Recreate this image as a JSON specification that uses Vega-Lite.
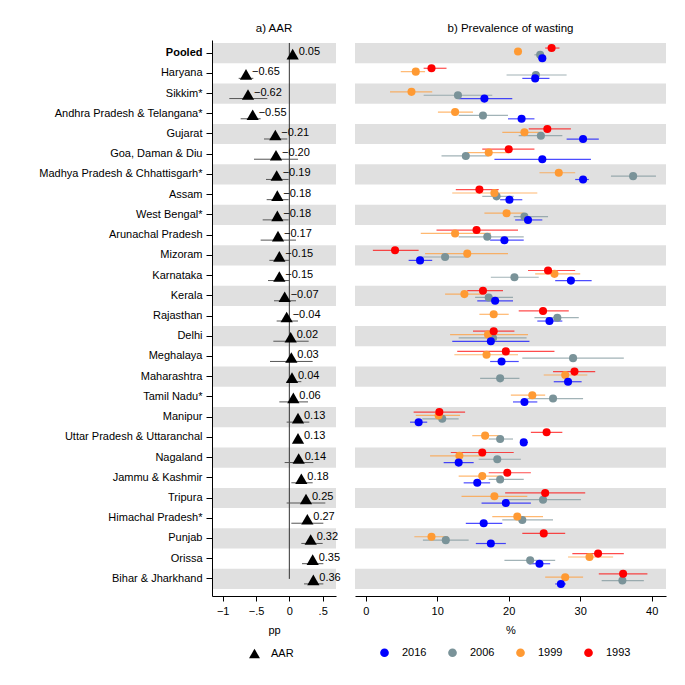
{
  "$schema": "https://vega.github.io/schema/vega-lite/v6.json",
  "background": "white",
  "padding": {"left": 38, "top": 22, "right": 5, "bottom": 5},
  "config": {
    "font": "Liberation Sans",
    "view": {"stroke": null},
    "axis": {"labelFont": "Liberation Sans", "labelFontSize": 11, "labelColor": "black", "titleFont": "Liberation Sans", "titleFontSize": 11, "titleFontWeight": "normal", "titleColor": "black", "domainColor": "black", "tickColor": "black", "grid": false},
    "title": {"font": "Liberation Sans", "fontSize": 11.5, "fontWeight": "normal", "color": "black", "offset": 6, "anchor": "middle"},
    "legend": {"labelFont": "Liberation Sans", "labelFontSize": 11, "labelColor": "black"},
    "concat": {"spacing": 14}
  },
  "datasets": {
    "aar": [
      {"state": "Pooled", "aar": 0.05, "lo": 0.03, "hi": 0.07},
      {"state": "Haryana", "aar": -0.65, "lo": -0.76, "hi": -0.54},
      {"state": "Sikkim*", "aar": -0.62, "lo": -0.90, "hi": -0.33},
      {"state": "Andhra Pradesh & Telangana*", "aar": -0.55, "lo": -0.73, "hi": -0.43},
      {"state": "Gujarat", "aar": -0.21, "lo": -0.38, "hi": -0.03},
      {"state": "Goa, Daman & Diu", "aar": -0.20, "lo": -0.53, "hi": 0.13},
      {"state": "Madhya Pradesh & Chhattisgarh*", "aar": -0.19, "lo": -0.35, "hi": -0.01},
      {"state": "Assam", "aar": -0.18, "lo": -0.34, "hi": -0.01},
      {"state": "West Bengal*", "aar": -0.18, "lo": -0.40, "hi": -0.01},
      {"state": "Arunachal Pradesh", "aar": -0.17, "lo": -0.43, "hi": 0.10},
      {"state": "Mizoram", "aar": -0.15, "lo": -0.30, "hi": 0.00},
      {"state": "Karnataka", "aar": -0.15, "lo": -0.32, "hi": 0.00},
      {"state": "Kerala", "aar": -0.07, "lo": -0.23, "hi": 0.10},
      {"state": "Rajasthan", "aar": -0.04, "lo": -0.19, "hi": 0.13},
      {"state": "Delhi", "aar": 0.02, "lo": -0.24, "hi": 0.29},
      {"state": "Meghalaya", "aar": 0.03, "lo": -0.29, "hi": 0.35},
      {"state": "Maharashtra", "aar": 0.04, "lo": -0.04, "hi": 0.18},
      {"state": "Tamil Nadu*", "aar": 0.06, "lo": -0.15, "hi": 0.28},
      {"state": "Manipur", "aar": 0.13, "lo": -0.04, "hi": 0.30},
      {"state": "Uttar Pradesh & Uttaranchal", "aar": 0.13, "lo": 0.08, "hi": 0.18},
      {"state": "Nagaland", "aar": 0.14, "lo": -0.07, "hi": 0.36},
      {"state": "Jammu & Kashmir", "aar": 0.18, "lo": 0.03, "hi": 0.35},
      {"state": "Tripura", "aar": 0.25, "lo": -0.04, "hi": 0.54},
      {"state": "Himachal Pradesh*", "aar": 0.27, "lo": 0.03, "hi": 0.51},
      {"state": "Punjab", "aar": 0.32, "lo": 0.18, "hi": 0.50},
      {"state": "Orissa", "aar": 0.35, "lo": 0.19, "hi": 0.51},
      {"state": "Bihar & Jharkhand", "aar": 0.36, "lo": 0.22, "hi": 0.51}
    ],
    "prev": [
      {"state": "Pooled", "year": "2006", "est": 24.4, "lo": 23.6, "hi": 24.9},
      {"state": "Haryana", "year": "2006", "est": 23.8, "lo": 19.7, "hi": 28.1},
      {"state": "Sikkim*", "year": "2006", "est": 12.9, "lo": 8.1, "hi": 17.7},
      {"state": "Andhra Pradesh & Telangana*", "year": "2006", "est": 16.4, "lo": 13.0, "hi": 19.9},
      {"state": "Gujarat", "year": "2006", "est": 24.5, "lo": 21.4, "hi": 27.5},
      {"state": "Goa, Daman & Diu", "year": "2006", "est": 14.0, "lo": 10.6, "hi": 17.2},
      {"state": "Madhya Pradesh & Chhattisgarh*", "year": "2006", "est": 37.4, "lo": 34.3, "hi": 40.6},
      {"state": "Assam", "year": "2006", "est": 18.3, "lo": 16.3, "hi": 20.7},
      {"state": "West Bengal*", "year": "2006", "est": 22.2, "lo": 20.7, "hi": 25.5},
      {"state": "Arunachal Pradesh", "year": "2006", "est": 17.0, "lo": 13.0, "hi": 22.1},
      {"state": "Mizoram", "year": "2006", "est": 11.1, "lo": 7.4, "hi": 14.4},
      {"state": "Karnataka", "year": "2006", "est": 20.8, "lo": 17.5, "hi": 24.2},
      {"state": "Kerala", "year": "2006", "est": 17.2, "lo": 15.3, "hi": 20.6},
      {"state": "Rajasthan", "year": "2006", "est": 26.8, "lo": 23.6, "hi": 29.8},
      {"state": "Delhi", "year": "2006", "est": 17.8, "lo": 13.0, "hi": 22.5},
      {"state": "Meghalaya", "year": "2006", "est": 29.0, "lo": 21.9, "hi": 36.1},
      {"state": "Maharashtra", "year": "2006", "est": 18.8, "lo": 16.0, "hi": 21.5},
      {"state": "Tamil Nadu*", "year": "2006", "est": 26.2, "lo": 22.6, "hi": 30.4},
      {"state": "Manipur", "year": "2006", "est": 10.7, "lo": 7.9, "hi": 13.0},
      {"state": "Uttar Pradesh & Uttaranchal", "year": "2006", "est": 18.8, "lo": 17.2, "hi": 20.6},
      {"state": "Nagaland", "year": "2006", "est": 18.4, "lo": 15.8, "hi": 21.7},
      {"state": "Jammu & Kashmir", "year": "2006", "est": 18.8, "lo": 17.2, "hi": 22.1},
      {"state": "Tripura", "year": "2006", "est": 24.8, "lo": 19.5, "hi": 30.1},
      {"state": "Himachal Pradesh*", "year": "2006", "est": 21.9, "lo": 19.1, "hi": 26.2},
      {"state": "Punjab", "year": "2006", "est": 11.2, "lo": 8.0, "hi": 14.4},
      {"state": "Orissa", "year": "2006", "est": 23.0, "lo": 19.4, "hi": 26.5},
      {"state": "Bihar & Jharkhand", "year": "2006", "est": 35.9, "lo": 33.0, "hi": 38.9},

      {"state": "Pooled", "year": "1999", "est": 21.3, "lo": 20.9, "hi": 21.7},
      {"state": "Haryana", "year": "1999", "est": 7.0, "lo": 4.9, "hi": 8.3},
      {"state": "Sikkim*", "year": "1999", "est": 6.4, "lo": 3.4, "hi": 9.3},
      {"state": "Andhra Pradesh & Telangana*", "year": "1999", "est": 12.5, "lo": 10.1, "hi": 15.0},
      {"state": "Gujarat", "year": "1999", "est": 22.2, "lo": 19.1, "hi": 24.7},
      {"state": "Goa, Daman & Diu", "year": "1999", "est": 17.2, "lo": 14.2, "hi": 20.0},
      {"state": "Madhya Pradesh & Chhattisgarh*", "year": "1999", "est": 27.0, "lo": 24.3, "hi": 29.3},
      {"state": "Assam", "year": "1999", "est": 18.0, "lo": 12.1, "hi": 24.0},
      {"state": "West Bengal*", "year": "1999", "est": 19.7, "lo": 16.6, "hi": 22.1},
      {"state": "Arunachal Pradesh", "year": "1999", "est": 12.5, "lo": 7.7, "hi": 17.5},
      {"state": "Mizoram", "year": "1999", "est": 14.2, "lo": 8.3, "hi": 19.9},
      {"state": "Karnataka", "year": "1999", "est": 26.4, "lo": 23.7, "hi": 30.0},
      {"state": "Kerala", "year": "1999", "est": 13.8, "lo": 11.1, "hi": 16.3},
      {"state": "Rajasthan", "year": "1999", "est": 17.9, "lo": 15.9, "hi": 20.0},
      {"state": "Delhi", "year": "1999", "est": 17.1, "lo": 11.8, "hi": 22.7},
      {"state": "Meghalaya", "year": "1999", "est": 16.9, "lo": 12.4, "hi": 21.3},
      {"state": "Maharashtra", "year": "1999", "est": 27.9, "lo": 24.9, "hi": 31.0},
      {"state": "Tamil Nadu*", "year": "1999", "est": 23.3, "lo": 20.3, "hi": 25.1},
      {"state": "Manipur", "year": "1999", "est": 10.2, "lo": 7.0, "hi": 13.2},
      {"state": "Uttar Pradesh & Uttaranchal", "year": "1999", "est": 16.7, "lo": 14.9, "hi": 18.6},
      {"state": "Nagaland", "year": "1999", "est": 13.1, "lo": 9.0, "hi": 16.7},
      {"state": "Jammu & Kashmir", "year": "1999", "est": 16.3, "lo": 13.0, "hi": 19.1},
      {"state": "Tripura", "year": "1999", "est": 18.0, "lo": 13.4, "hi": 22.6},
      {"state": "Himachal Pradesh*", "year": "1999", "est": 21.2, "lo": 17.7, "hi": 24.8},
      {"state": "Punjab", "year": "1999", "est": 9.2, "lo": 6.8, "hi": 11.5},
      {"state": "Orissa", "year": "1999", "est": 31.3, "lo": 28.3, "hi": 34.6},
      {"state": "Bihar & Jharkhand", "year": "1999", "est": 27.9, "lo": 25.1, "hi": 30.4},

      {"state": "Pooled", "year": "1993", "est": 26.0, "lo": 25.1, "hi": 27.1},
      {"state": "Haryana", "year": "1993", "est": 9.2, "lo": 8.1, "hi": 11.3},
      {"state": "Gujarat", "year": "1993", "est": 25.4, "lo": 22.8, "hi": 28.7},
      {"state": "Goa, Daman & Diu", "year": "1993", "est": 20.0, "lo": 16.3, "hi": 23.6},
      {"state": "Assam", "year": "1993", "est": 15.9, "lo": 12.6, "hi": 18.6},
      {"state": "Arunachal Pradesh", "year": "1993", "est": 15.5, "lo": 9.9, "hi": 21.3},
      {"state": "Mizoram", "year": "1993", "est": 4.1, "lo": 1.0, "hi": 7.4},
      {"state": "Karnataka", "year": "1993", "est": 25.5, "lo": 22.7, "hi": 29.3},
      {"state": "Kerala", "year": "1993", "est": 16.4, "lo": 14.2, "hi": 19.2},
      {"state": "Rajasthan", "year": "1993", "est": 24.8, "lo": 21.4, "hi": 28.4},
      {"state": "Delhi", "year": "1993", "est": 17.9, "lo": 15.0, "hi": 20.8},
      {"state": "Meghalaya", "year": "1993", "est": 19.6, "lo": 12.8, "hi": 26.4},
      {"state": "Maharashtra", "year": "1993", "est": 29.2, "lo": 26.2, "hi": 32.1},
      {"state": "Manipur", "year": "1993", "est": 10.3, "lo": 6.7, "hi": 13.9},
      {"state": "Uttar Pradesh & Uttaranchal", "year": "1993", "est": 25.3, "lo": 23.1, "hi": 27.5},
      {"state": "Nagaland", "year": "1993", "est": 16.3, "lo": 11.9, "hi": 20.7},
      {"state": "Jammu & Kashmir", "year": "1993", "est": 19.8, "lo": 17.2, "hi": 23.1},
      {"state": "Tripura", "year": "1993", "est": 25.1, "lo": 19.5, "hi": 30.7},
      {"state": "Punjab", "year": "1993", "est": 24.9, "lo": 21.9, "hi": 27.9},
      {"state": "Orissa", "year": "1993", "est": 32.5, "lo": 28.9, "hi": 36.1},
      {"state": "Bihar & Jharkhand", "year": "1993", "est": 36.0, "lo": 32.6, "hi": 39.4},

      {"state": "Pooled", "year": "2016", "est": 24.7, "lo": 24.2, "hi": 25.2},
      {"state": "Haryana", "year": "2016", "est": 23.7, "lo": 21.9, "hi": 25.7},
      {"state": "Sikkim*", "year": "2016", "est": 16.6, "lo": 13.0, "hi": 20.5},
      {"state": "Andhra Pradesh & Telangana*", "year": "2016", "est": 21.8, "lo": 19.9, "hi": 23.6},
      {"state": "Gujarat", "year": "2016", "est": 30.4, "lo": 28.1, "hi": 32.6},
      {"state": "Goa, Daman & Diu", "year": "2016", "est": 24.7, "lo": 18.0, "hi": 31.5},
      {"state": "Madhya Pradesh & Chhattisgarh*", "year": "2016", "est": 30.4, "lo": 29.3, "hi": 31.2},
      {"state": "Assam", "year": "2016", "est": 20.1, "lo": 18.8, "hi": 21.9},
      {"state": "West Bengal*", "year": "2016", "est": 22.7, "lo": 20.9, "hi": 24.7},
      {"state": "Arunachal Pradesh", "year": "2016", "est": 19.4, "lo": 17.4, "hi": 22.1},
      {"state": "Mizoram", "year": "2016", "est": 7.6, "lo": 6.0, "hi": 9.3},
      {"state": "Karnataka", "year": "2016", "est": 28.7, "lo": 26.5, "hi": 31.6},
      {"state": "Kerala", "year": "2016", "est": 18.1, "lo": 15.6, "hi": 20.6},
      {"state": "Rajasthan", "year": "2016", "est": 25.7, "lo": 24.0, "hi": 27.5},
      {"state": "Delhi", "year": "2016", "est": 17.5, "lo": 12.1, "hi": 22.9},
      {"state": "Meghalaya", "year": "2016", "est": 19.0, "lo": 17.4, "hi": 21.4},
      {"state": "Maharashtra", "year": "2016", "est": 28.3, "lo": 26.3, "hi": 30.2},
      {"state": "Tamil Nadu*", "year": "2016", "est": 22.2, "lo": 20.6, "hi": 24.0},
      {"state": "Manipur", "year": "2016", "est": 7.4, "lo": 6.2, "hi": 8.6},
      {"state": "Uttar Pradesh & Uttaranchal", "year": "2016", "est": 22.1, "lo": 21.6, "hi": 22.7},
      {"state": "Nagaland", "year": "2016", "est": 13.0, "lo": 10.9, "hi": 15.1},
      {"state": "Jammu & Kashmir", "year": "2016", "est": 15.6, "lo": 13.7, "hi": 17.4},
      {"state": "Tripura", "year": "2016", "est": 19.6, "lo": 16.2, "hi": 23.1},
      {"state": "Himachal Pradesh*", "year": "2016", "est": 16.5, "lo": 14.0, "hi": 19.1},
      {"state": "Punjab", "year": "2016", "est": 17.5, "lo": 15.4, "hi": 19.6},
      {"state": "Orissa", "year": "2016", "est": 24.3, "lo": 22.8, "hi": 25.8},
      {"state": "Bihar & Jharkhand", "year": "2016", "est": 27.3, "lo": 26.5, "hi": 28.0}
    ]
  },
  "resolve": {"scale": {"color": "independent", "shape": "independent"}, "legend": {"color": "independent", "shape": "independent"}},
  "hconcat": [
    {
      "width": 124,
      "height": 556,
      "title": "a) AAR",
      "data": {"name": "aar"},
      "encoding": {
        "y": {
          "field": "state", "type": "nominal",
          "scale": {"domain": ["Pooled", "Haryana", "Sikkim*", "Andhra Pradesh & Telangana*", "Gujarat", "Goa, Daman & Diu", "Madhya Pradesh & Chhattisgarh*", "Assam", "West Bengal*", "Arunachal Pradesh", "Mizoram", "Karnataka", "Kerala", "Rajasthan", "Delhi", "Meghalaya", "Maharashtra", "Tamil Nadu*", "Manipur", "Uttar Pradesh & Uttaranchal", "Nagaland", "Jammu & Kashmir", "Tripura", "Himachal Pradesh*", "Punjab", "Orissa", "Bihar & Jharkhand"], "paddingInner": 0, "paddingOuter": 0.247, "align": 0.3},
          "axis": {"title": null, "tickSize": 6, "labelPadding": 4, "labelFontWeight": {"condition": {"test": "datum.value == 'Pooled'", "value": "bold"}, "value": "normal"}}
        }
      },
      "layer": [
        {
          "transform": [{"window": [{"op": "row_number", "as": "rn"}]}, {"filter": "datum.rn % 2 == 1"}],
          "mark": {"type": "rect", "color": "#e0e0e0"},
          "encoding": {
            "x": {"datum": -1.16, "type": "quantitative", "scale": {"domain": [-1.16, 0.70], "nice": false, "zero": false}, "axis": {"values": [-1, -0.5, 0, 0.5], "labelExpr": "replace(format(datum.value, ''), '0.', '.')", "title": "pp", "tickSize": 5, "labelPadding": 4, "titlePadding": 8}},
            "x2": {"datum": 0.70}
          }
        },
        {
          "data": {"values": [{}]},
          "mark": {"type": "rule", "color": "#333333", "strokeWidth": 1},
          "encoding": {
            "x": {"datum": 0, "type": "quantitative"},
            "y": {"datum": "Pooled", "bandPosition": 0},
            "y2": {"datum": "Bihar & Jharkhand"}
          }
        },
        {
          "mark": {"type": "rule", "color": "#555555", "strokeWidth": 1, "yOffset": 5},
          "encoding": {
            "x": {"field": "lo", "type": "quantitative"},
            "x2": {"field": "hi"}
          }
        },
        {
          "mark": {"type": "point", "filled": true, "color": "black", "opacity": 1, "size": 150, "yOffset": 1},
          "encoding": {
            "x": {"field": "aar", "type": "quantitative"},
            "shape": {"datum": "AAR", "scale": {"range": ["triangle-up"]}, "legend": {"orient": "none", "legendX": 36, "legendY": 607, "title": null, "symbolFillColor": "black", "symbolStrokeColor": "black", "symbolSize": 120, "labelOffset": 10}}
          }
        },
        {
          "mark": {"type": "text", "align": "left", "baseline": "middle", "dx": 6, "yOffset": -1, "fontSize": 11, "color": "black"},
          "encoding": {
            "x": {"field": "aar", "type": "quantitative"},
            "text": {"field": "aar", "type": "quantitative", "format": ".2f"}
          }
        }
      ]
    },
    {
      "width": 311,
      "height": 556,
      "title": "b) Prevalence of wasting",
      "encoding": {
        "y": {
          "field": "state", "type": "nominal",
          "scale": {"domain": ["Pooled", "Haryana", "Sikkim*", "Andhra Pradesh & Telangana*", "Gujarat", "Goa, Daman & Diu", "Madhya Pradesh & Chhattisgarh*", "Assam", "West Bengal*", "Arunachal Pradesh", "Mizoram", "Karnataka", "Kerala", "Rajasthan", "Delhi", "Meghalaya", "Maharashtra", "Tamil Nadu*", "Manipur", "Uttar Pradesh & Uttaranchal", "Nagaland", "Jammu & Kashmir", "Tripura", "Himachal Pradesh*", "Punjab", "Orissa", "Bihar & Jharkhand"], "paddingInner": 0, "paddingOuter": 0.247, "align": 0.3},
          "axis": null
        }
      },
      "layer": [
        {
          "data": {"name": "aar"},
          "transform": [{"window": [{"op": "row_number", "as": "rn"}]}, {"filter": "datum.rn % 2 == 1"}],
          "mark": {"type": "rect", "color": "#e0e0e0"},
          "encoding": {
            "x": {"datum": -1.5, "type": "quantitative", "scale": {"domain": [-1.5, 42], "nice": false, "zero": false}, "axis": {"values": [0, 10, 20, 30, 40], "title": "%", "tickSize": 5, "labelPadding": 4, "titlePadding": 8}},
            "x2": {"datum": 42}
          }
        },
        {
          "data": {"name": "prev"},
          "mark": {"type": "rule", "strokeWidth": 1.2, "opacity": 0.7},
          "encoding": {
            "x": {"field": "lo", "type": "quantitative"},
            "x2": {"field": "hi"},
            "yOffset": {"field": "year", "type": "nominal", "scale": {"domain": ["1993", "1999", "2006", "2016"], "paddingInner": 0, "paddingOuter": 5.6}},
            "color": {"field": "year", "type": "nominal", "scale": {"domain": ["2016", "2006", "1999", "1993"], "range": ["#0000ff", "#7a9399", "#ff9a33", "#ff0000"]}, "legend": {"orient": "none", "legendX": 24, "legendY": 607, "direction": "horizontal", "title": null, "symbolType": "circle", "symbolSize": 75, "symbolOpacity": 1, "symbolStrokeWidth": 0, "columnPadding": 20, "labelOffset": 12}}
          }
        },
        {
          "data": {"name": "prev"},
          "mark": {"type": "circle", "size": 65, "opacity": 1},
          "encoding": {
            "x": {"field": "est", "type": "quantitative"},
            "yOffset": {"field": "year", "type": "nominal", "scale": {"domain": ["1993", "1999", "2006", "2016"], "paddingInner": 0, "paddingOuter": 5.6}},
            "color": {"field": "year", "type": "nominal", "scale": {"domain": ["2016", "2006", "1999", "1993"], "range": ["#0000ff", "#7a9399", "#ff9a33", "#ff0000"]}, "legend": {"orient": "none", "legendX": 24, "legendY": 607, "direction": "horizontal", "title": null, "symbolType": "circle", "symbolSize": 75, "symbolOpacity": 1, "symbolStrokeWidth": 0, "columnPadding": 20, "labelOffset": 12}}
          }
        }
      ]
    }
  ]
}
